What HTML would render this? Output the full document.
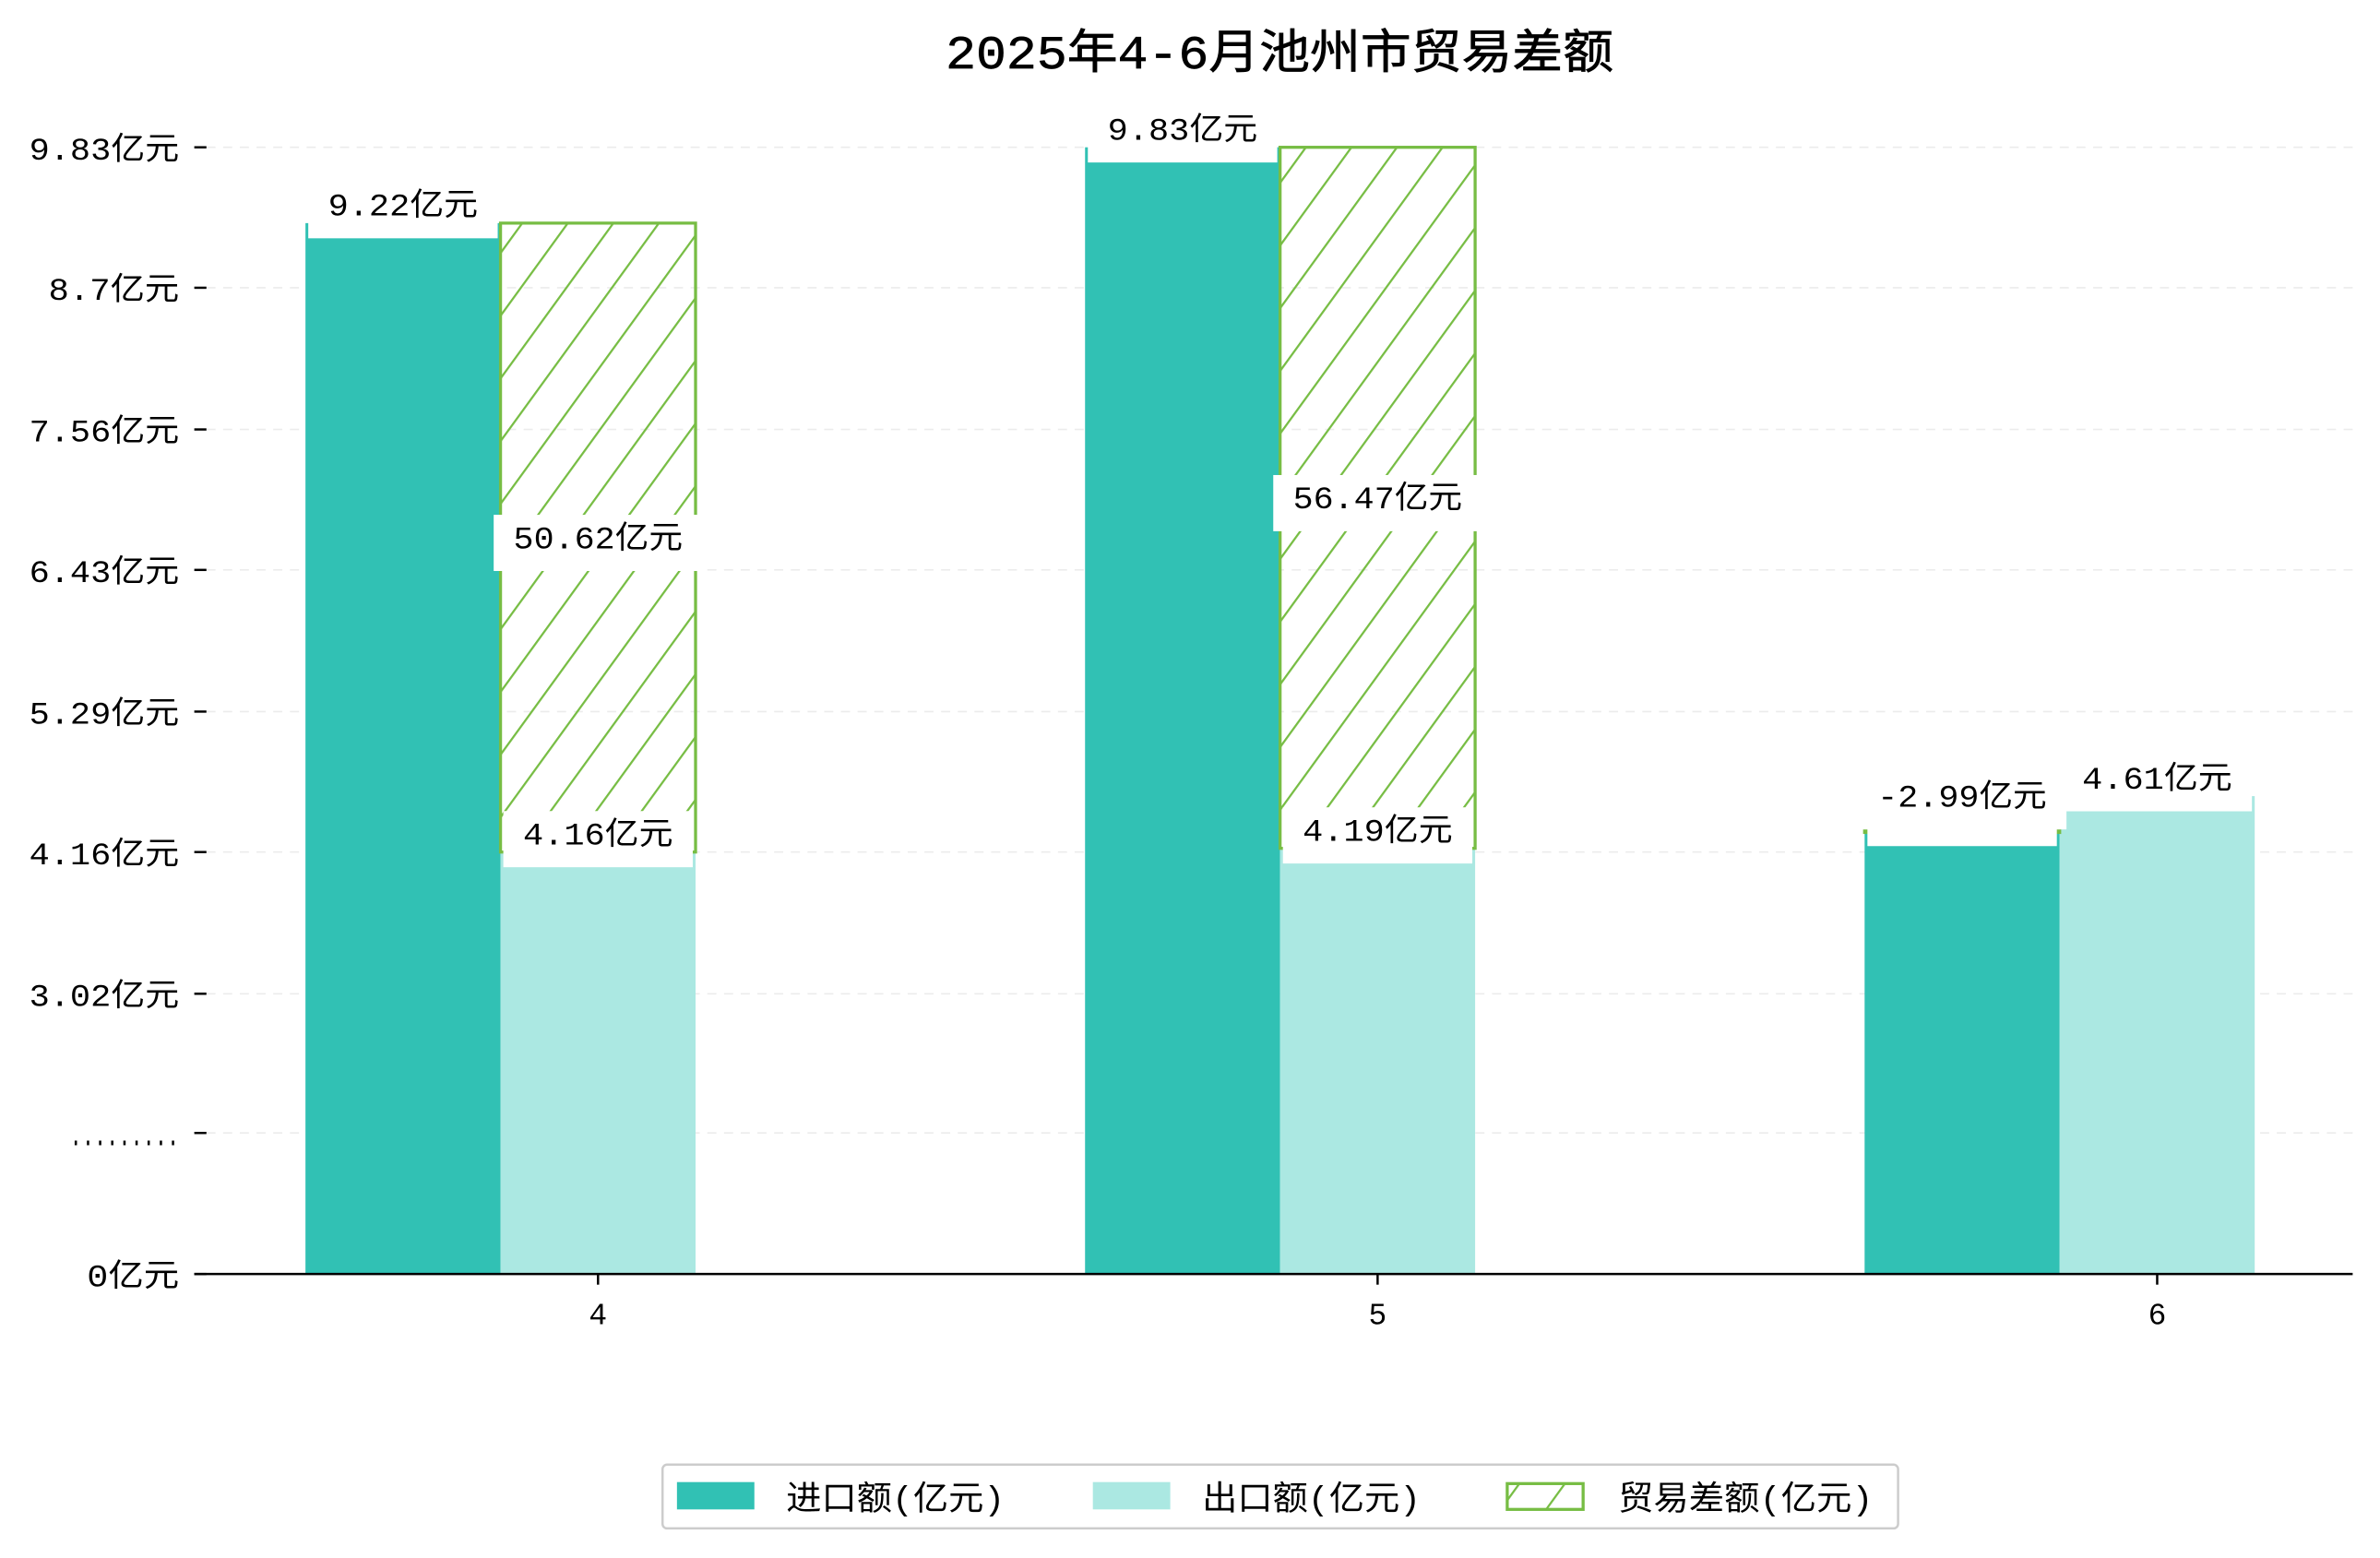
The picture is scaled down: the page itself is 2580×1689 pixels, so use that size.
<!DOCTYPE html>
<html><head><meta charset="utf-8"><style>
html,body{margin:0;padding:0;background:#fff}
svg{display:block}
text{font-family:"Liberation Mono","WenQuanYi Zen Hei","Noto Sans CJK SC",monospace;fill:#000}
</style></head><body>
<svg id="chart" width="2580" height="1689" viewBox="0 0 1568 1026" preserveAspectRatio="none" xmlns="http://www.w3.org/2000/svg">
<defs>
<pattern id="hatch" patternUnits="userSpaceOnUse" width="30" height="30" patternTransform="skewX(-36)">
<line x1="0" y1="30" x2="0" y2="0" stroke="#77bd44" stroke-width="3.4"/>
</pattern>
</defs>
<text id="title" x="623" y="45" font-size="31" stroke="#000" stroke-width="0.4">2025年4-6月池州市贸易差额</text>
<g id="grid"></g>
<g id="bars"></g>
<g id="labels"></g>
<g id="axes"></g>
<g>
<rect x="436.5" y="964.5" width="814" height="42" rx="3" fill="#fff" stroke="#ccc" stroke-width="1.5"/>
<rect x="446" y="976" width="51" height="18" fill="#31c1b4"/>
<text class="fit" x="518" y="994" font-size="22">进口额(亿元)</text>
<rect x="720" y="976" width="51" height="18" fill="#abe8e2"/>
<text class="fit" x="792" y="994" font-size="22">出口额(亿元)</text>
<rect x="993" y="977" width="50" height="17" fill="url(#hatch)" stroke="#77bd44" stroke-width="2"/>
<text class="fit" x="1066" y="994" font-size="22">贸易差额(亿元)</text>
</g>
</svg>
<script>
const months = ['4','5','6'];
const imports = [9.22, 9.83, 4.33];
const exports_ = [4.16, 4.19, 4.61];
const balances = [50.62, 56.47, -2.99];
const tickValues = [0.765, 1.9, 3.02, 4.16, 5.29, 6.43, 7.56, 8.7, 9.83];
const tickLabels = ['0亿元', '.........', '3.02亿元', '4.16亿元', '5.29亿元', '6.43亿元', '7.56亿元', '8.7亿元', '9.83亿元'];

const NS = 'http://www.w3.org/2000/svg';
const baseY = 839, topY = 97, vMin = tickValues[0], vMax = tickValues[tickValues.length-1];
function y(v){ return baseY - (v - vMin) / (vMax - vMin) * (baseY - topY); }
const bw = 128.5, step = 513.6, firstCenter = 394;
function xc(i){ return firstCenter + i*step; }
function mk(tag, attrs, parent){ const e=document.createElementNS(NS,tag); for(const k in attrs) e.setAttribute(k,attrs[k]); parent.appendChild(e); return e; }
function tlen(s, d, c){ let L=0; for(const ch of s){ L += (ch.charCodeAt(0)>255) ? c : d; } return L; }
const grid=document.getElementById('grid'), bars=document.getElementById('bars'), labels=document.getElementById('labels'), axes=document.getElementById('axes');

const title=document.getElementById('title');
title.setAttribute('textLength', 440);
title.setAttribute('lengthAdjust', 'spacingAndGlyphs');
document.querySelectorAll('.fit').forEach(t=>{
  t.setAttribute('textLength', tlen(t.textContent,12,24));
  t.setAttribute('lengthAdjust', 'spacingAndGlyphs');
});

tickValues.forEach((v,i)=>{
  const g = mk('line',{x1:136,x2:1550,y1:y(v),y2:y(v),stroke:'#ececec','stroke-dasharray':'6,5','stroke-width':1},grid);
  
  
  const t = mk('line',{x1:128,x2:136,y1:y(v),y2:y(v),stroke:'#000','stroke-width':1.5},axes);
  
  
  const s = tickLabels[i];
  const L = s.startsWith('.') ? 72 : tlen(s,12.7,24);
  const l = mk('text',{x:118-L,y:y(v)+8,'font-size':21,textLength:L,lengthAdjust:'spacingAndGlyphs'},axes);
  l.textContent = s;
  
  
});
const ax = mk('line',{x1:128,x2:1550,y1:baseY,y2:baseY,stroke:'#000','stroke-width':1.5},axes);



function label(text, cx, cy){
  const L = tlen(text,12.7,24);
  const w = L+26;
  const r = mk('rect',{x:cx-w/2,y:cy-15,width:w,height:37,fill:'#fff'},labels);
  
  
  const t = mk('text',{x:cx-L/2,y:cy+7,'font-size':21,textLength:L,lengthAdjust:'spacingAndGlyphs'},labels);
  t.textContent = text;
  
  
}

months.forEach((m,i)=>{
  const c = xc(i);
  const xi = c - bw*1.5, xe = c - bw*0.5;
  const bi = mk('rect',{x:xi,y:y(imports[i]),width:bw,height:baseY-y(imports[i]),fill:'#31c1b4'},bars);
  
  
  const be = mk('rect',{x:xe,y:y(exports_[i]),width:bw,height:baseY-y(exports_[i]),fill:'#abe8e2'},bars);
  
  
  const hi = Math.max(imports[i],exports_[i]), lo = Math.min(imports[i],exports_[i]);
  const hx = balances[i] >= 0 ? xe : xi;
  const hTop = balances[i] >= 0 ? y(hi) : y(imports[i]);
  const hH = balances[i] >= 0 ? y(lo)-y(hi) : 1;
  const bb = mk('rect',{x:hx,y:hTop,width:bw,height:hH,fill:'url(#hatch)',stroke:'#77bd44','stroke-width':2},bars);
  
  
  const tk = mk('line',{x1:c,x2:c,y1:baseY,y2:baseY+7,stroke:'#000','stroke-width':1.5},axes);
  
  
  const tl = mk('text',{x:c,y:baseY+33,'font-size':20,'text-anchor':'middle'},axes);
  tl.textContent = m;
  
  

  label(imports[i].toFixed(2)+'亿元', xi+bw/2, y(imports[i])-12);
  label(exports_[i].toFixed(2)+'亿元', xe+bw/2, y(exports_[i])-12);
  const my = balances[i] >= 0 ? (y(hi)+y(lo))/2 : y(imports[i])-23;
  label(balances[i].toFixed(2)+'亿元', hx+bw/2, my);
});
</script>
</body></html>
